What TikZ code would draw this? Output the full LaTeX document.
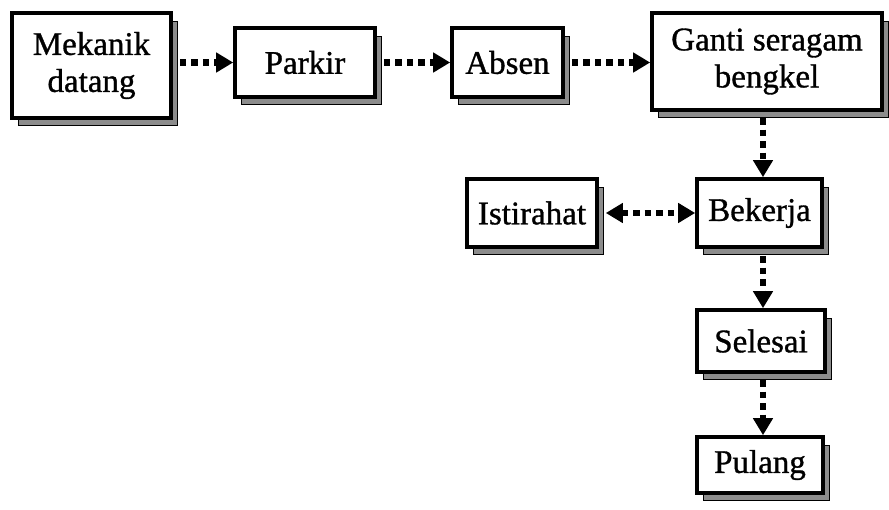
\documentclass[tikz,border=0pt]{standalone}
\usepackage{fontspec}
\setmainfont{Liberation Serif}[FakeBold=1]
\usetikzlibrary{arrows.meta}
\tikzset{
  flowbox/.style={draw=black, line width=3.6pt, fill=white, inner sep=0pt,
    align=center, font=\fontsize{33}{37}\selectfont},
  boxshadow/.style={draw=black, line width=0.8pt, fill=black!45},
  flow/.style={line width=6.5pt, dash pattern=on 6.5pt off 5pt,
    -{Triangle[length=17pt,width=19pt]}},
  flowboth/.style={flow, {Triangle[length=17pt,width=19pt]}-{Triangle[length=17pt,width=19pt]}}
}
% box with a drop shadow: name, left, top, right, bottom, text
\newcommand{\shadowbox}[6]{%
  \fill[boxshadow] (#2+6,#3+8) rectangle (#4+6,#5+7);
  \node[flowbox, minimum width=#4-#2, minimum height=#5-#3]
    (#1) at ({(#2+#4)/2},{(#3+#5)/2}) {#6};
}
\begin{document}
\begin{tikzpicture}[x=1pt,y=-1pt]
\useasboundingbox (0,0) rectangle (889,509);
\shadowbox{meka}{12}{13}{171}{118}{Mekanik\\datang}
\shadowbox{park}{235}{28}{375}{97}{Parkir}
\shadowbox{abs}{452}{28}{563}{97}{Absen}
\shadowbox{gant}{652}{13}{882}{110}{Ganti seragam\\bengkel}
\shadowbox{isti}{467}{179}{597}{247}{Istirahat}
\shadowbox{bek}{697}{179}{822}{247}{Bekerja}
\shadowbox{sel}{697}{310}{825}{372}{Selesai}
\shadowbox{pul}{697}{437}{823}{493}{Pulang}

\coordinate (g1) at (763,118);
\coordinate (b1) at (763,256);
\coordinate (s1) at (763,380);
\draw[flow] ([xshift=7pt]meka.east |- park.east) -- (park.west);
\draw[flow] ([xshift=7pt]park.east) -- (abs.west);
\draw[flow] ([xshift=7pt]abs.east) -- (gant.west |- abs.east);
\draw[flow] (g1) -- (g1 |- bek.north);
\draw[flowboth] ([xshift=7pt]isti.east) -- (bek.west);
\draw[flow] (b1) -- (b1 |- sel.north);
\draw[flow] (s1) -- (s1 |- pul.north);
\end{tikzpicture}
\end{document}
